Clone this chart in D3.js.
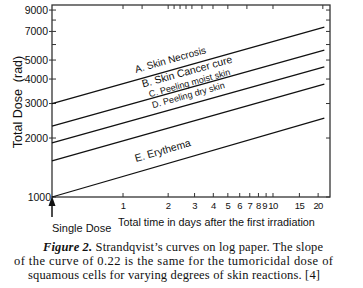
<!DOCTYPE html>
<html>
<head>
<meta charset="utf-8">
<script src="https://cdn.jsdelivr.net/npm/d3@7"></script>
<style>
  body { margin: 0; background: #fff; }
  text { font-family: "Liberation Sans", Arial, sans-serif; fill: #111; }
  .cap { font-family: "Liberation Serif", "Times New Roman", serif; font-size: 12.5px; }
</style>
</head>
<body>
<script>
// values
const doseTicks = [1000, 2000, 3000, 4000, 5000, 6000, 7000, 8000, 9000];
const doseLabels = [1000, 2000, 3000, 4000, 5000, 7000, 9000];
const dayTicks = [1, 2, 3, 4, 5, 6, 7, 8, 9, 10, 15, 20];
const topTicks = [1, 1.34, 2, 2.19, 2.4, 2.63, 2.88, 3.36, 3.98, 5, 6.7, 10, 21.5];

const curveNames = ['A. Skin Necrosis', 'B. Skin Cancer cure', 'C. Peeling moist skin', 'D. Peeling dry skin', 'E. Erythema'];
const startDose = [3000, 2300, 1890, 1530, 1000];
const endDose = [7370, 5620, 4610, 3770, 2530];
const singleDoseDay = 0.336;
const lastDay = 22;

// where each curve label sits (day, dose)
const labelDay = [1.22, 1.36, 1.51, 1.585, 1.22];
const labelDose = [4300, 3620, 3230, 2840, 1510];
const labelSize = [10, 10.5, 9, 9, 10.5];

const captionLines = [
  ['Figure 2.', ' Strandqvist\u2019s curves on log paper. The slope'],
  ['', 'of the curve of 0.22 is the same for the tumoricidal dose of'],
  ['', 'squamous cells for varying degrees of skin reactions. [4]']
];

const svg = d3.select('body').append('svg')
  .attr('width', 363)
  .attr('height', 288);

const x = d3.scaleLog().domain([singleDoseDay, 24]).range([52, 330]);
const y = d3.scaleLog().domain([1000, 9550]).range([197, 5]);

// frame
svg.append('rect')
  .attr('x', x.range()[0])
  .attr('y', y.range()[1])
  .attr('width', x.range()[1] - x.range()[0])
  .attr('height', y.range()[0] - y.range()[1])
  .style('fill', 'none')
  .style('stroke', '#333')
  .style('stroke-width', '1.3px');

// left + right ticks
svg.selectAll('.ltick').data(doseTicks).enter().append('line')
  .attr('x1', d => doseLabels.includes(d) && d !== 1000 ? x.range()[0] - 3 : x.range()[0])
  .attr('x2', x.range()[0] + 4)
  .attr('y1', d => y(d)).attr('y2', d => y(d))
  .style('stroke', '#333').style('stroke-width', '1px');

svg.selectAll('.rtick').data(doseTicks).enter().append('line')
  .attr('x1', x.range()[1] - 4)
  .attr('x2', x.range()[1])
  .attr('y1', d => y(d)).attr('y2', d => y(d))
  .style('stroke', '#333').style('stroke-width', '1px');

svg.selectAll('.ylab').data(doseLabels).enter().append('text')
  .attr('x', d => d === 1000 ? 51 : 48)
  .attr('y', d => y(d) + 3.6)
  .attr('text-anchor', 'end')
  .style('font-size', '10.5px')
  .text(d => d);

// bottom + top ticks
svg.selectAll('.btick').data(dayTicks).enter().append('line')
  .attr('x1', d => x(d)).attr('x2', d => x(d))
  .attr('y1', y.range()[0] - 4).attr('y2', y.range()[0])
  .style('stroke', '#333').style('stroke-width', '1px');

svg.selectAll('.ttick').data(topTicks).enter().append('line')
  .attr('x1', d => x(d)).attr('x2', d => x(d))
  .attr('y1', y.range()[1]).attr('y2', y.range()[1] + 4)
  .style('stroke', '#333').style('stroke-width', '1px');

svg.selectAll('.xlab').data(dayTicks).enter().append('text')
  .attr('x', d => x(d))
  .attr('dx', d => d === 9 ? -1.5 : 0)
  .attr('y', 209)
  .attr('text-anchor', 'middle')
  .style('font-size', '9.5px')
  .style('letter-spacing', '-0.6px')
  .text(d => d);

// axis titles
svg.append('text')
  .attr('transform', 'translate(22,102) rotate(-90)')
  .attr('text-anchor', 'middle')
  .style('font-size', '12.5px')
  .style('white-space', 'pre')
  .text('Total Dose  (rad)');

svg.append('text')
  .attr('x', 118)
  .attr('y', 226)
  .style('font-size', '10.8px')
  .text('Total time in days after the first irradiation');

// single dose arrow
const ax = x(singleDoseDay);
svg.append('line')
  .attr('x1', ax).attr('x2', ax)
  .attr('y1', 203).attr('y2', 217)
  .style('stroke', '#111').style('stroke-width', '1.5px');
svg.append('path')
  .attr('d', `M${ax},196 L${ax - 3.5},206 L${ax + 3.5},206 Z`)
  .style('fill', '#111');
svg.append('text')
  .attr('x', ax)
  .attr('y', 232)
  .style('font-size', '11px')
  .text('Single Dose');

// the curves
const curves = curveNames.map((name, i) => ({
  name: name,
  pts: [[singleDoseDay, startDose[i]], [lastDay, endDose[i]]],
  lx: labelDay[i], ly: labelDose[i], size: labelSize[i]
}));

svg.selectAll('.curve').data(curves).enter().append('line')
  .attr('x1', d => x(d.pts[0][0])).attr('y1', d => y(d.pts[0][1]))
  .attr('x2', d => x(d.pts[1][0])).attr('y2', d => y(d.pts[1][1]))
  .style('stroke', '#111').style('stroke-width', '1.3px');

svg.selectAll('.clab').data(curves).enter().append('text')
  .attr('transform', d => {
    const ang = Math.atan2(y(d.pts[1][1]) - y(d.pts[0][1]), x(d.pts[1][0]) - x(d.pts[0][0])) * 180 / Math.PI;
    return `translate(${x(d.lx)},${y(d.ly)}) rotate(${ang})`;
  })
  .style('font-size', d => d.size + 'px')
  .text(d => d.name);

// caption
const cap = svg.append('g');
const capX = [43, 14, 28];
const capW = [280, 319, 292];
captionLines.forEach((ln, i) => {
  const t = cap.append('text')
    .attr('class', 'cap')
    .attr('x', capX[i])
    .attr('y', 251 + i * 14.2)
    .attr('textLength', capW[i])
    .attr('lengthAdjust', 'spacing');
  if (ln[0]) {
    t.append('tspan')
      .style('font-weight', 'bold')
      .style('font-style', 'italic')
      .text(ln[0]);
  }
  t.append('tspan').style('white-space', 'pre').text(ln[1]);
});
</script>
</body>
</html>
